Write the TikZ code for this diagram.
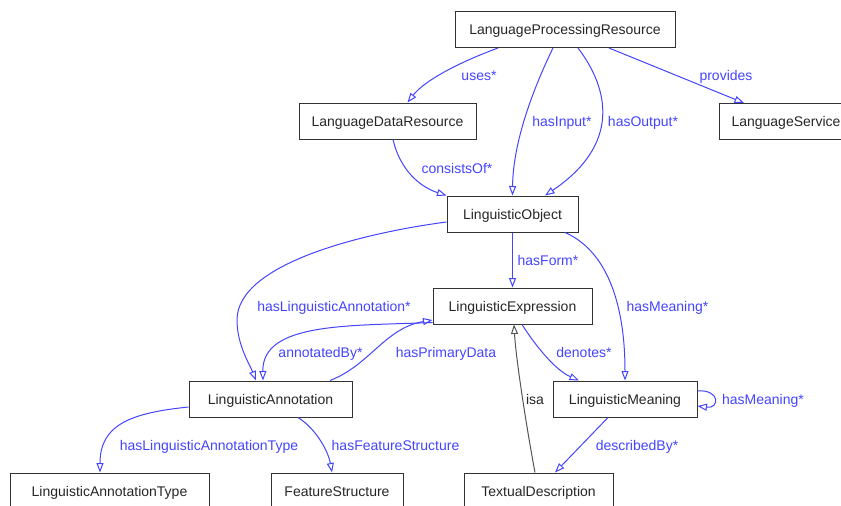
\documentclass[tikz,border=0pt]{standalone}
\usepackage{fontspec}
\setmainfont{Liberation Sans}
\usetikzlibrary{arrows.meta}
\definecolor{rel_blue}{RGB}{68,68,255}
\definecolor{box_grey}{RGB}{51,51,51}
\definecolor{isa_grey}{RGB}{85,85,85}

\begin{document}
\begin{tikzpicture}[x=1pt, y=1pt, font=\fontsize{14}{16}\selectfont,
    cls/.style={draw=box_grey, line width=1pt, minimum height=36pt, inner sep=0pt,
      text height=10pt, text depth=0pt, text=black!85},
    rel/.style={rel_blue, line width=1pt, -{Triangle[open,length=9.5pt,width=7pt]}},
    relbl/.style={text=rel_blue, inner sep=0pt, text height=10pt, text depth=0pt}]
  \useasboundingbox (0,0) rectangle (841,-506);
  \clip (0,0) rectangle (841,-506);
  % classes
  \node[cls, minimum width=220] (lpr) at (565,-29.5) {LanguageProcessingResource};
  \node[cls, minimum width=177] (ldr) at (387.5,-121) {LanguageDataResource};
  \node[cls, minimum width=134] (ls) at (786,-121.5) {LanguageService};
  \node[cls, minimum width=131] (lo) at (512.5,-214) {LinguisticObject};
  \node[cls, minimum width=159] (le) at (512.5,-306) {LinguisticExpression};
  \node[cls, minimum width=144] (lm) at (625,-399) {LinguisticMeaning};
  \node[cls, minimum width=163] (la) at (270.5,-399) {LinguisticAnnotation};
  \node[cls, minimum width=199] (lat) at (109.5,-491) {LinguisticAnnotationType};
  \node[cls, minimum width=132] (fs) at (337,-491) {FeatureStructure};
  \node[cls, minimum width=149] (td) at (538.5,-491) {TextualDescription};

  % relations
  \draw[rel] ([xshift=-67]lpr.south) .. controls (460,-62) and (425,-80) .. ([xshift=20]ldr.north);
  \draw[rel] ([xshift=-12]lpr.south) .. controls (535,-85) and (513,-140) .. (lo.north);
  \draw[rel] ([xshift=13]lpr.south) .. controls (610,-90) and (620,-145) .. ([xshift=32.5]lo.north);
  \draw[rel] ([xshift=44]lpr.south) -- ([xshift=-42]ls.north);
  \draw[rel] ([xshift=5.5]ldr.south) .. controls (400,-170) and (420,-187) .. (lo.north west);
  \draw[rel] ([yshift=-8]lo.west) .. controls (370,-232) and (237,-262) .. (237,-320)
    .. controls (237,-345) and (250,-365) .. ([xshift=-14.5]la.north);
  \draw[rel] (lo.south) -- (le.north);
  \draw[rel] ([xshift=52.5]lo.south) .. controls (605,-250) and (625,-300) .. (lm.north);
  \draw[rel] ([yshift=2]le.south west) .. controls (350,-326) and (262,-322) .. ([xshift=-7.5]la.north);
  \draw[rel] ([xshift=59.5]la.north) .. controls (370,-365) and (385,-328) .. ([yshift=-14]le.west);
  \draw[rel] ([xshift=9.5]le.south) .. controls (535,-345) and (555,-370) .. ([xshift=-46]lm.north);
  \draw[rel] ([yshift=8]lm.east) .. controls (720,-389) and (720,-409) .. ([yshift=-7]lm.east);
  \draw[rel] ([yshift=-8]la.west) .. controls (130,-413) and (100,-425) .. ([xshift=-9.5]lat.north);
  \draw[rel] ([xshift=27.5]la.south) .. controls (315,-428) and (328,-450) .. ([xshift=-5]fs.north);
  \draw[rel] ([xshift=-17]lm.south) -- ([xshift=16.5]td.north);
  \draw[isa_grey, line width=1pt, -{Triangle[open,length=9.5pt,width=7pt]}]
    ([xshift=-3.5]td.north) .. controls (527,-430) and (516,-360) .. ([xshift=1.5]le.south);

  % relation labels
  \node[relbl] (uses) at (479,-75) {uses*};
  \node[relbl] (provides) at (726,-75) {provides};
  \node[relbl] (hasinput) at (562,-121) {hasInput*};
  \node[relbl] (hasoutput) at (643,-121) {hasOutput*};
  \node[relbl] (consists) at (457,-168) {consistsOf*};
  \node[relbl] (hasla) at (334,-306) {hasLinguisticAnnotation*};
  \node[relbl] (hasform) at (548,-260) {hasForm*};
  \node[relbl] (hasmeaning) at (667.5,-306) {hasMeaning*};
  \node[relbl] (annotated) at (320.5,-352) {annotatedBy*};
  \node[relbl] (primary) at (446,-352) {hasPrimaryData};
  \node[relbl] (denotes) at (584,-352) {denotes*};
  \node[relbl] (selfmeaning) at (763,-399) {hasMeaning*};
  \node[inner sep=0pt, text height=10pt, text depth=0pt, text=black!85] (isa) at (535,-399) {isa};
  \node[relbl] (described) at (637,-445) {describedBy*};
  \node[relbl] (haslat) at (209,-445) {hasLinguisticAnnotationType};
  \node[relbl] (hasfs) at (395.5,-445) {hasFeatureStructure};
\end{tikzpicture}
\end{document}
